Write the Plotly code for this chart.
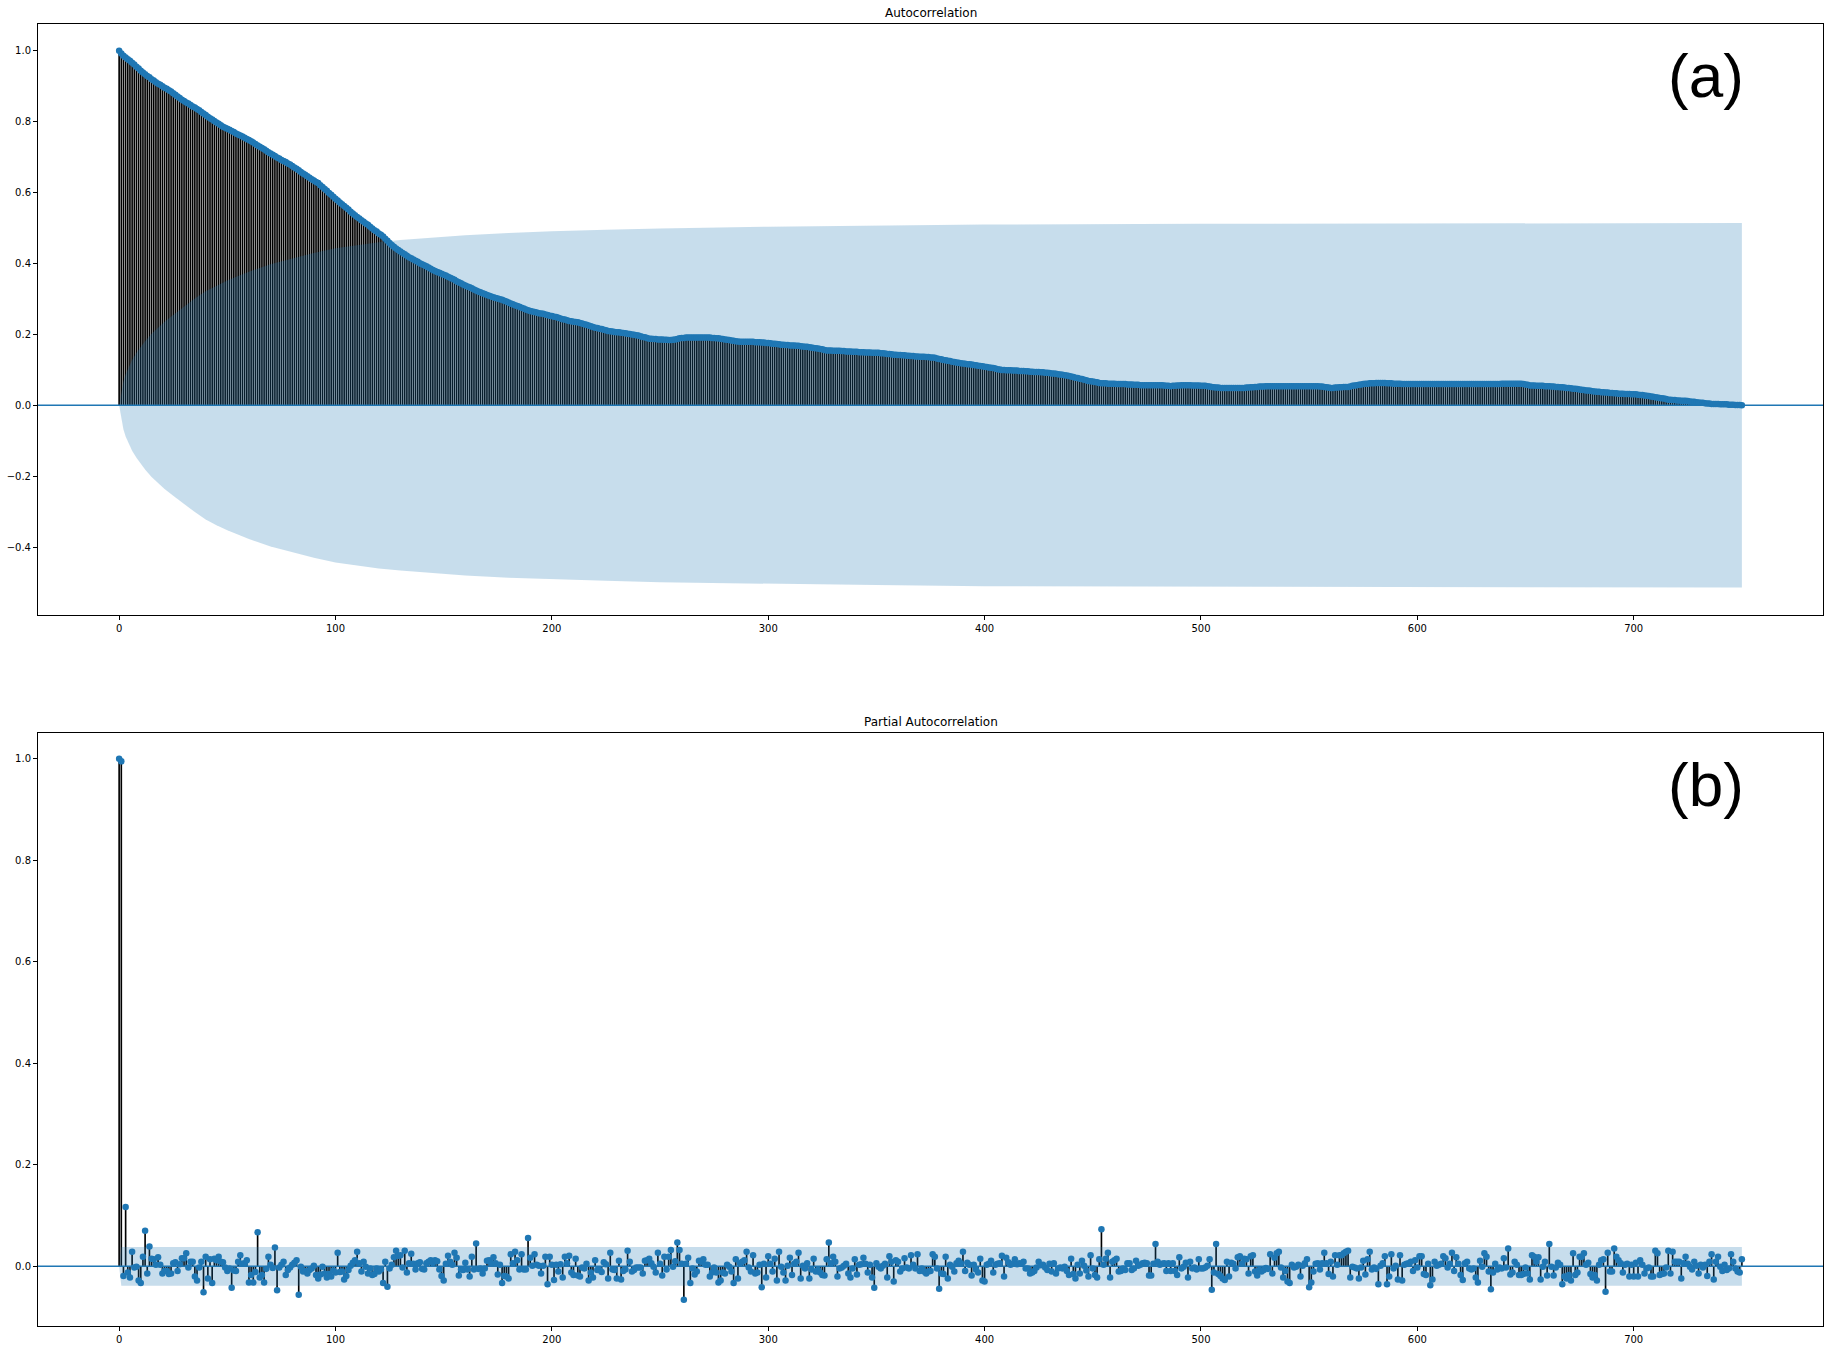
"""
ACF / PACF a 750 lag, ridisegnati con plotly.
Valori letti a occhio dal grafico originale (statsmodels plot_acf / plot_pacf).
"""

import plotly.graph_objects as go

# ---------------------------------------------------------------------------
# Dati
# ---------------------------------------------------------------------------

# autocorrelazione, lag 0..750
acf_vals = [
    1.000, 0.992, 0.986, 0.981, 0.976, 0.972, 0.966, 0.961, 0.955, 0.950,
    0.944, 0.939, 0.934, 0.929, 0.925, 0.920, 0.916, 0.911, 0.907, 0.904,
    0.900, 0.896, 0.893, 0.889, 0.885, 0.880, 0.876, 0.871, 0.867, 0.862,
    0.858, 0.854, 0.851, 0.847, 0.843, 0.840, 0.836, 0.832, 0.827, 0.823,
    0.819, 0.814, 0.810, 0.806, 0.802, 0.798, 0.794, 0.790, 0.786, 0.783,
    0.780, 0.777, 0.774, 0.771, 0.767, 0.764, 0.761, 0.758, 0.755, 0.751,
    0.748, 0.745, 0.741, 0.737, 0.733, 0.729, 0.726, 0.722, 0.718, 0.714,
    0.710, 0.707, 0.703, 0.699, 0.696, 0.692, 0.689, 0.686, 0.682, 0.679,
    0.675, 0.671, 0.667, 0.663, 0.658, 0.654, 0.650, 0.646, 0.642, 0.638,
    0.634, 0.630, 0.627, 0.621, 0.616, 0.610, 0.605, 0.599, 0.594, 0.588,
    0.583, 0.578, 0.572, 0.567, 0.562, 0.557, 0.552, 0.546, 0.541, 0.536,
    0.531, 0.527, 0.522, 0.518, 0.513, 0.509, 0.504, 0.499, 0.494, 0.490,
    0.485, 0.481, 0.476, 0.470, 0.464, 0.458, 0.452, 0.447, 0.442, 0.438,
    0.434, 0.430, 0.426, 0.422, 0.418, 0.415, 0.411, 0.408, 0.405, 0.401,
    0.398, 0.395, 0.392, 0.389, 0.385, 0.382, 0.379, 0.376, 0.374, 0.371,
    0.368, 0.366, 0.363, 0.360, 0.357, 0.354, 0.350, 0.347, 0.344, 0.341,
    0.338, 0.335, 0.333, 0.330, 0.327, 0.324, 0.321, 0.319, 0.316, 0.314,
    0.311, 0.309, 0.307, 0.305, 0.303, 0.301, 0.299, 0.298, 0.295, 0.293,
    0.290, 0.287, 0.285, 0.282, 0.280, 0.278, 0.275, 0.273, 0.270, 0.268,
    0.266, 0.265, 0.263, 0.262, 0.260, 0.259, 0.258, 0.256, 0.255, 0.253,
    0.252, 0.250, 0.249, 0.247, 0.245, 0.243, 0.242, 0.240, 0.238, 0.237,
    0.236, 0.235, 0.234, 0.232, 0.231, 0.229, 0.227, 0.225, 0.223, 0.221,
    0.219, 0.218, 0.216, 0.215, 0.213, 0.212, 0.210, 0.209, 0.208, 0.207,
    0.206, 0.206, 0.205, 0.204, 0.203, 0.202, 0.201, 0.200, 0.199, 0.198,
    0.197, 0.195, 0.193, 0.192, 0.190, 0.188, 0.188, 0.187, 0.187, 0.186,
    0.186, 0.186, 0.185, 0.185, 0.184, 0.184, 0.185, 0.186, 0.187, 0.189,
    0.190, 0.190, 0.191, 0.191, 0.191, 0.191, 0.191, 0.191, 0.191, 0.191,
    0.191, 0.191, 0.191, 0.191, 0.190, 0.190, 0.189, 0.189, 0.188, 0.187,
    0.186, 0.185, 0.184, 0.183, 0.182, 0.181, 0.180, 0.179, 0.179, 0.179,
    0.179, 0.179, 0.179, 0.179, 0.178, 0.178, 0.178, 0.177, 0.177, 0.176,
    0.176, 0.175, 0.174, 0.174, 0.173, 0.172, 0.171, 0.171, 0.170, 0.170,
    0.169, 0.169, 0.169, 0.168, 0.168, 0.167, 0.166, 0.165, 0.165, 0.164,
    0.163, 0.162, 0.161, 0.160, 0.159, 0.158, 0.156, 0.155, 0.155, 0.155,
    0.154, 0.154, 0.154, 0.154, 0.153, 0.153, 0.152, 0.152, 0.152, 0.151,
    0.151, 0.151, 0.150, 0.150, 0.150, 0.149, 0.149, 0.149, 0.148, 0.148,
    0.148, 0.148, 0.147, 0.147, 0.146, 0.145, 0.145, 0.144, 0.143, 0.143,
    0.142, 0.142, 0.141, 0.141, 0.140, 0.140, 0.139, 0.139, 0.138, 0.138,
    0.137, 0.137, 0.137, 0.136, 0.136, 0.135, 0.135, 0.134, 0.132, 0.131,
    0.130, 0.128, 0.127, 0.126, 0.125, 0.123, 0.122, 0.121, 0.120, 0.119,
    0.118, 0.117, 0.116, 0.116, 0.115, 0.114, 0.113, 0.112, 0.111, 0.110,
    0.109, 0.108, 0.107, 0.106, 0.105, 0.104, 0.102, 0.101, 0.100, 0.100,
    0.099, 0.099, 0.099, 0.098, 0.098, 0.098, 0.097, 0.097, 0.097, 0.096,
    0.096, 0.095, 0.095, 0.094, 0.094, 0.094, 0.093, 0.093, 0.092, 0.092,
    0.091, 0.090, 0.090, 0.089, 0.088, 0.087, 0.086, 0.085, 0.084, 0.083,
    0.081, 0.080, 0.078, 0.077, 0.075, 0.074, 0.072, 0.071, 0.069, 0.068,
    0.067, 0.066, 0.065, 0.063, 0.062, 0.062, 0.062, 0.061, 0.061, 0.061,
    0.061, 0.060, 0.060, 0.060, 0.060, 0.060, 0.059, 0.059, 0.059, 0.058,
    0.058, 0.058, 0.057, 0.057, 0.057, 0.057, 0.057, 0.057, 0.057, 0.057,
    0.057, 0.057, 0.057, 0.056, 0.055, 0.055, 0.054, 0.055, 0.055, 0.056,
    0.056, 0.057, 0.057, 0.057, 0.057, 0.057, 0.056, 0.056, 0.056, 0.056,
    0.055, 0.055, 0.055, 0.054, 0.053, 0.052, 0.051, 0.050, 0.050, 0.049,
    0.049, 0.049, 0.049, 0.049, 0.049, 0.049, 0.049, 0.049, 0.049, 0.049,
    0.049, 0.050, 0.050, 0.051, 0.051, 0.052, 0.052, 0.053, 0.053, 0.053,
    0.054, 0.054, 0.054, 0.054, 0.054, 0.054, 0.054, 0.054, 0.054, 0.054,
    0.054, 0.054, 0.054, 0.054, 0.054, 0.054, 0.054, 0.054, 0.054, 0.054,
    0.054, 0.054, 0.054, 0.054, 0.054, 0.053, 0.053, 0.052, 0.051, 0.050,
    0.049, 0.049, 0.050, 0.050, 0.051, 0.051, 0.052, 0.052, 0.052, 0.053,
    0.055, 0.056, 0.057, 0.058, 0.059, 0.060, 0.061, 0.061, 0.062, 0.062,
    0.062, 0.063, 0.063, 0.063, 0.063, 0.063, 0.062, 0.062, 0.062, 0.061,
    0.061, 0.061, 0.061, 0.060, 0.060, 0.060, 0.060, 0.060, 0.060, 0.060,
    0.060, 0.060, 0.060, 0.060, 0.060, 0.060, 0.060, 0.060, 0.060, 0.060,
    0.060, 0.060, 0.060, 0.060, 0.060, 0.060, 0.060, 0.060, 0.060, 0.060,
    0.060, 0.060, 0.060, 0.060, 0.060, 0.060, 0.060, 0.060, 0.060, 0.060,
    0.060, 0.060, 0.060, 0.060, 0.060, 0.060, 0.060, 0.060, 0.060, 0.061,
    0.061, 0.061, 0.061, 0.061, 0.061, 0.061, 0.061, 0.061, 0.061, 0.060,
    0.059, 0.058, 0.056, 0.056, 0.056, 0.055, 0.055, 0.055, 0.055, 0.054,
    0.054, 0.054, 0.053, 0.053, 0.052, 0.052, 0.051, 0.051, 0.050, 0.049,
    0.049, 0.048, 0.047, 0.047, 0.046, 0.045, 0.044, 0.043, 0.042, 0.042,
    0.041, 0.040, 0.039, 0.038, 0.038, 0.037, 0.037, 0.036, 0.036, 0.035,
    0.035, 0.034, 0.034, 0.033, 0.033, 0.033, 0.032, 0.032, 0.032, 0.031,
    0.031, 0.031, 0.030, 0.029, 0.029, 0.028, 0.027, 0.026, 0.025, 0.024,
    0.023, 0.022, 0.021, 0.020, 0.019, 0.018, 0.016, 0.016, 0.015, 0.015,
    0.014, 0.014, 0.013, 0.013, 0.013, 0.012, 0.011, 0.010, 0.010, 0.009,
    0.008, 0.007, 0.007, 0.006, 0.005, 0.005, 0.004, 0.004, 0.004, 0.004,
    0.003, 0.003, 0.003, 0.003, 0.002, 0.002, 0.002, 0.001, 0.001, 0.001,
    0.000,
]

# semi-ampiezza della banda di confidenza ACF (Bartlett), letta in alcuni lag
acf_band_lags = [0, 1, 2, 3, 4, 5, 6, 8, 10, 12, 15, 18, 21, 25, 30, 35, 40,
                 45, 50, 55, 60, 70, 80, 90, 100, 110, 120, 130, 140, 150,
                 160, 180, 200, 225, 250, 300, 350, 400, 500, 600, 750]
acf_band = [0.000, 0.039, 0.068, 0.088, 0.103, 0.116, 0.128, 0.148, 0.166,
            0.181, 0.202, 0.220, 0.236, 0.255, 0.279, 0.301, 0.322, 0.338,
            0.352, 0.365, 0.377, 0.398, 0.415, 0.430, 0.443, 0.452, 0.460,
            0.466, 0.471, 0.476, 0.480, 0.486, 0.491, 0.495, 0.499, 0.504,
            0.507, 0.510, 0.512, 0.513, 0.514]

# autocorrelazione parziale, lag 0..750
pacf_vals = [
    1.000, 0.995, -0.019, 0.117, -0.012, -0.022, 0.029, -0.002, -0.001, -0.028,
    -0.033, 0.019, 0.070, -0.014, 0.039, 0.015, 0.014, 0.003, 0.018, 0.003,
    -0.014, -0.009, -0.009, -0.015, -0.014, 0.006, 0.008, -0.009, 0.004, 0.016,
    0.016, 0.026, -0.002, 0.009, 0.009, -0.020, -0.028, -0.002, 0.009, -0.051,
    0.019, -0.024, 0.014, -0.033, 0.015, 0.012, 0.019, 0.009, 0.008, -0.002,
    -0.009, -0.004, -0.042, -0.008, -0.009, 0.009, 0.022, 0.005, 0.006, 0.012,
    -0.032, -0.017, -0.032, -0.011, 0.067, -0.022, -0.017, -0.032, -0.005, 0.019,
    0.003, -0.003, 0.037, -0.047, -0.002, 0.003, 0.009, -0.017, -0.007, -0.002,
    0.003, 0.007, 0.012, -0.056, -0.001, -0.010, -0.009, -0.014, -0.007, -0.004,
    0.001, -0.017, -0.024, -0.016, -0.001, -0.014, -0.022, -0.015, -0.020, -0.008,
    -0.012, 0.027, -0.011, -0.010, -0.026, -0.019, -0.007, 0.001, 0.007, 0.012,
    0.029, 0.006, -0.010, 0.009, -0.001, -0.014, -0.004, -0.017, -0.015, -0.004,
    -0.010, -0.006, -0.033, 0.009, -0.040, -0.004, 0.003, 0.018, 0.031, 0.021,
    0.022, -0.002, 0.031, -0.012, 0.006, 0.025, 0.005, -0.006, 0.006, 0.008,
    -0.005, -0.006, 0.006, 0.009, 0.012, 0.007, 0.012, 0.010, -0.006, -0.019,
    -0.028, 0.005, 0.021, 0.009, 0.003, 0.027, 0.017, -0.018, -0.006, -0.007,
    0.007, -0.006, -0.020, 0.019, -0.006, 0.045, -0.005, -0.004, -0.014, -0.004,
    0.011, 0.012, 0.006, 0.018, 0.006, -0.016, 0.003, -0.033, -0.019, -0.020,
    -0.024, 0.024, 0.006, 0.029, 0.012, -0.006, 0.024, -0.006, -0.006, 0.056,
    0.017, 0.001, 0.024, 0.003, 0.001, -0.014, 0.001, 0.019, -0.035, 0.019,
    0.003, -0.027, 0.003, -0.010, 0.004, -0.022, 0.019, 0.006, 0.021, -0.012,
    -0.017, 0.015, -0.018, -0.020, -0.002, -0.004, 0.005, -0.028, -0.012, -0.022,
    0.012, -0.007, -0.007, -0.011, 0.008, 0.004, -0.024, 0.027, -0.006, -0.007,
    -0.024, 0.011, -0.026, -0.009, -0.006, 0.031, 0.009, -0.010, -0.007, -0.002,
    -0.002, -0.002, -0.014, 0.011, 0.012, 0.015, 0.006, -0.001, -0.012, 0.027,
    0.005, -0.018, 0.019, -0.006, 0.019, 0.032, -0.001, 0.010, 0.047, 0.032,
    0.005, -0.066, 0.005, 0.017, -0.033, -0.004, -0.016, -0.010, 0.011, 0.009,
    0.014, 0.003, 0.003, -0.020, -0.012, -0.002, -0.012, -0.032, -0.028, -0.012,
    -0.014, 0.003, -0.001, -0.010, -0.033, 0.014, -0.024, 0.006, 0.009, 0.012,
    0.029, -0.002, -0.010, 0.022, -0.014, -0.012, 0.003, -0.041, 0.005, -0.022,
    0.020, 0.005, -0.010, 0.015, -0.028, 0.029, -0.001, -0.012, -0.028, 0.001,
    0.017, -0.017, 0.005, 0.009, 0.027, -0.024, 0.001, -0.004, 0.006, -0.024,
    -0.006, 0.015, -0.010, -0.007, -0.012, -0.017, -0.018, 0.014, 0.047, 0.006,
    0.019, 0.009, -0.020, -0.004, -0.002, 0.001, 0.005, -0.014, -0.022, -0.004,
    0.014, -0.016, 0.003, 0.004, 0.017, 0.005, -0.012, 0.003, -0.022, -0.042,
    0.006, -0.001, -0.004, 0.001, 0.005, -0.022, 0.020, 0.009, -0.030, 0.012,
    0.009, -0.010, -0.004, 0.016, -0.002, -0.004, 0.022, 0.003, -0.004, 0.024,
    -0.009, -0.004, -0.010, -0.014, -0.010, -0.009, 0.024, 0.019, -0.004, -0.044,
    -0.014, -0.015, 0.019, -0.024, 0.003, -0.001, -0.010, 0.006, 0.011, 0.006,
    0.029, -0.009, 0.007, 0.003, -0.018, 0.003, -0.006, -0.012, 0.015, -0.028,
    -0.030, 0.003, 0.005, 0.011, -0.012, 0.003, 0.005, 0.006, 0.021, -0.020,
    0.017, 0.008, 0.003, 0.005, 0.014, 0.004, 0.006, 0.005, 0.009, -0.004,
    -0.004, -0.014, -0.012, -0.009, -0.002, 0.009, 0.002, 0.003, -0.002, -0.007,
    0.005, -0.010, 0.006, -0.014, -0.004, -0.002, -0.004, -0.001, -0.009, -0.017,
    0.015, -0.015, -0.024, 0.003, -0.014, 0.011, 0.001, -0.008, -0.020, 0.022,
    -0.004, -0.017, -0.022, 0.014, 0.073, 0.003, 0.015, 0.027, -0.022, 0.009,
    0.012, 0.015, -0.010, -0.009, -0.004, -0.007, 0.006, 0.006, -0.007, -0.004,
    0.011, 0.001, 0.003, 0.006, 0.007, 0.006, -0.018, -0.018, 0.005, 0.044,
    0.009, 0.003, 0.005, 0.006, -0.009, 0.006, -0.009, 0.006, -0.009, -0.017,
    0.018, -0.004, -0.001, 0.007, -0.022, 0.009, -0.004, -0.002, -0.006, 0.014,
    -0.004, -0.004, -0.002, 0.001, 0.014, -0.046, -0.012, 0.044, -0.015, -0.019,
    -0.024, -0.027, 0.009, -0.020, 0.007, 0.005, -0.004, 0.018, 0.020, 0.005,
    0.015, 0.014, -0.014, 0.020, 0.022, -0.010, -0.018, -0.007, -0.010, -0.007,
    -0.003, -0.005, 0.024, -0.014, 0.017, 0.026, 0.029, -0.002, -0.022, -0.009,
    -0.030, -0.033, 0.003, -0.002, -0.001, 0.003, -0.020, 0.001, 0.006, 0.014,
    -0.041, -0.032, -0.010, 0.005, 0.006, -0.006, 0.006, 0.027, 0.006, -0.015,
    0.009, -0.020, 0.022, 0.003, 0.022, 0.022, 0.026, 0.029, 0.031, -0.022,
    -0.001, -0.002, -0.004, -0.024, -0.002, 0.011, -0.016, 0.014, 0.029, -0.006,
    -0.002, -0.005, -0.035, 0.001, 0.006, 0.020, -0.035, -0.020, 0.024, -0.004,
    0.001, -0.026, 0.022, -0.028, 0.003, 0.005, 0.006, 0.009, -0.009, 0.012,
    -0.002, 0.020, 0.020, -0.015, -0.017, 0.005, -0.037, -0.026, 0.009, 0.001,
    0.003, 0.005, 0.020, 0.016, -0.002, 0.005, 0.027, -0.009, 0.018, 0.005,
    -0.017, -0.027, 0.006, 0.009, -0.004, -0.006, -0.004, -0.022, -0.032, 0.011,
    -0.001, 0.026, 0.019, -0.010, -0.045, -0.012, 0.005, -0.006, -0.002, -0.004,
    0.016, -0.002, 0.035, -0.016, -0.012, 0.009, 0.003, -0.017, -0.017, -0.015,
    -0.002, -0.014, -0.026, 0.022, 0.019, 0.009, 0.018, -0.026, -0.001, 0.009,
    -0.018, 0.044, -0.001, -0.018, -0.002, 0.007, 0.003, -0.035, -0.020, -0.024,
    -0.017, -0.028, 0.026, -0.017, -0.012, 0.019, 0.019, 0.026, 0.003, 0.007,
    -0.015, -0.022, -0.017, -0.028, 0.003, 0.012, 0.014, -0.050, 0.027, -0.010,
    -0.010, 0.035, 0.019, 0.012, 0.006, -0.012, 0.003, 0.005, -0.020, 0.003,
    -0.020, 0.007, -0.020, 0.012, 0.003, -0.014, -0.004, -0.002, -0.020, -0.020,
    0.031, 0.026, -0.017, -0.015, -0.014, -0.002, 0.031, -0.014, 0.029, 0.009,
    0.009, 0.009, -0.024, 0.006, 0.019, 0.005, -0.001, -0.006, 0.009, 0.001,
    -0.014, 0.003, -0.002, 0.003, -0.019, 0.009, 0.024, -0.026, 0.009, 0.019,
    -0.001, -0.009, 0.003, -0.007, -0.004, 0.024, 0.009, -0.004, -0.010, -0.012,
    0.014,
]

# banda PACF: ampiezza costante (zero al lag 0)
pacf_band_lags = [0, 1, 750]
pacf_band = [0.0, 0.0384, 0.0384]

x_ticks = [0, 100, 200, 300, 400, 500, 600, 700]
acf_y_ticks = [-0.4, -0.2, 0.0, 0.2, 0.4, 0.6, 0.8, 1.0]
pacf_y_ticks = [0.0, 0.2, 0.4, 0.6, 0.8, 1.0]

# ---------------------------------------------------------------------------
# Stile
# ---------------------------------------------------------------------------

BLUE = "#1f77b4"
BAND = "rgba(31,119,180,0.25)"
TICK_FONT = dict(family="DejaVu Sans", size=10, color="black")


def add_corr_panel(fig, vals, band_lags, band, xa, ya):
    """Steli neri + marker blu + linea a zero + banda di confidenza."""
    lags = list(range(len(vals)))
    xs, ys = [], []
    for l, v in zip(lags, vals):
        xs += [l, l, None]
        ys += [0, v, None]
    fig.add_trace(go.Scatter(x=xs, y=ys, mode="lines",
                             line=dict(color="black", width=1.65),
                             xaxis=xa, yaxis=ya, hoverinfo="skip"))
    fig.add_trace(go.Scatter(x=[-37.5, 787.5], y=[0, 0], mode="lines",
                             line=dict(color=BLUE, width=1.5),
                             xaxis=xa, yaxis=ya, hoverinfo="skip"))
    fig.add_trace(go.Scatter(x=lags, y=vals, mode="markers",
                             marker=dict(color=BLUE, size=6.5),
                             xaxis=xa, yaxis=ya))
    bx = band_lags + band_lags[::-1]
    by = band + [-b for b in band[::-1]]
    fig.add_trace(go.Scatter(x=bx, y=by, mode="lines", fill="toself",
                             fillcolor=BAND, line=dict(width=0),
                             xaxis=xa, yaxis=ya, hoverinfo="skip"))


fig = go.Figure()
add_corr_panel(fig, acf_vals, acf_band_lags, acf_band, "x", "y")
add_corr_panel(fig, pacf_vals, pacf_band_lags, pacf_band, "x2", "y2")

axis_common = dict(showgrid=False, zeroline=False, showline=True, mirror=True,
                   linecolor="black", linewidth=1, ticks="outside",
                   ticklen=4, tickwidth=0.8, tickcolor="black",
                   tickfont=TICK_FONT)

fig.update_layout(
    width=1831, height=1352,
    margin=dict(l=38, r=7, t=24, b=16),
    paper_bgcolor="white", plot_bgcolor="white",
    showlegend=False,
    xaxis=dict(domain=[0, 1], range=[-37.5, 787.5], anchor="y",
               tickvals=x_ticks, **axis_common),
    yaxis=dict(domain=[0.5457, 1], range=[-0.5927, 1.0755], anchor="x",
               tickvals=acf_y_ticks, tickformat=".1f", **axis_common),
    xaxis2=dict(domain=[0, 1], range=[-37.5, 787.5], anchor="y2",
                tickvals=x_ticks, **axis_common),
    yaxis2=dict(domain=[0, 0.4553], range=[-0.1175, 1.0505], anchor="x2",
                tickvals=pacf_y_ticks, tickformat=".1f", **axis_common),
)

for ya, xa, title, label in [("y", "x", "Autocorrelation", "(a)"),
                             ("y2", "x2", "Partial Autocorrelation", "(b)")]:
    fig.add_annotation(text=title, xref=f"{xa} domain", yref=f"{ya} domain",
                       x=0.5, y=1, yanchor="bottom", yshift=2,
                       showarrow=False,
                       font=dict(family="DejaVu Sans", size=12, color="black"))
    fig.add_annotation(text=label, xref=f"{xa} domain", yref=f"{ya} domain",
                       x=0.9347, y=0.913, xanchor="center", yanchor="middle",
                       showarrow=False,
                       font=dict(family="Liberation Sans", size=62,
                                 color="black"))

# niente margine di default sul body, così la figura parte da (0, 0)
fig.write_html("out.html", config={"displayModeBar": False},
               post_script="document.body.style.margin = '0';")
